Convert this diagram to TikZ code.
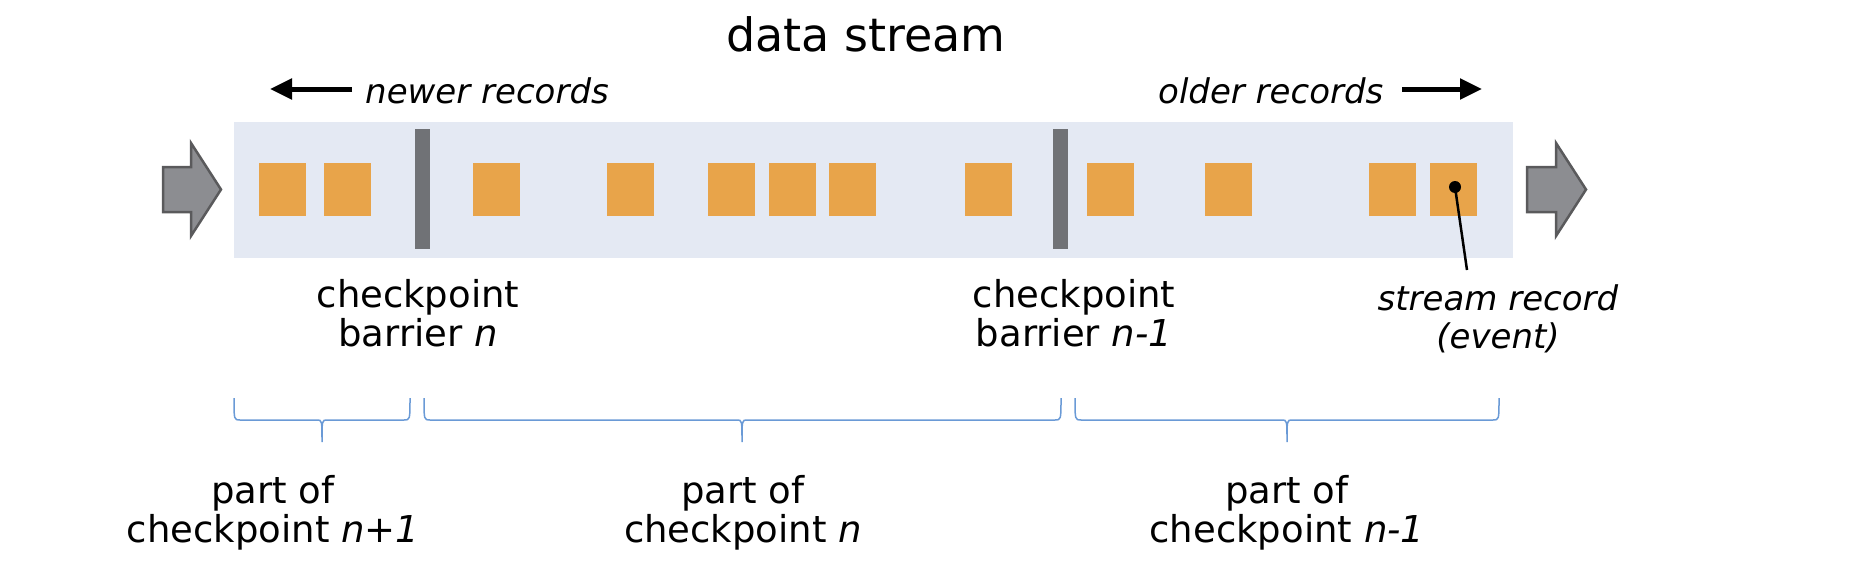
\documentclass[tikz,border=0pt]{standalone}
\usepackage{fontspec}
\setmainfont{DejaVu Sans}
\usetikzlibrary{arrows.meta}
\definecolor{bandcol}{HTML}{E4E9F3}
\definecolor{reccol}{HTML}{E8A44A}
\definecolor{barcol}{HTML}{707276}
\definecolor{arrfill}{HTML}{8C8D91}
\definecolor{arrdraw}{HTML}{5A5A5C}
\definecolor{bracecol}{HTML}{6A9AD6}
\tikzset{
  recbox/.style={fill=reccol, draw=none, minimum width=47pt, minimum height=53pt, inner sep=0pt, outer sep=0pt, anchor=north west},
  barbox/.style={fill=barcol, draw=none, minimum width=15pt, minimum height=120pt, inner sep=0pt, anchor=north west},
  blockarrow/.style={fill=arrfill, draw=arrdraw, line width=2.5pt, line join=miter},
  lbl/.style={font=\fontsize{37}{39}\selectfont, align=center, anchor=base, inner sep=0pt},
  ilbl/.style={font=\fontsize{34}{38}\selectfont\itshape, align=center, anchor=base, inner sep=0pt},
  ttl/.style={font=\fontsize{46}{50}\selectfont, anchor=base, inner sep=0pt},
  dirarrow/.style={line width=5pt, -{Triangle[length=22pt,width=20pt]}},
  bracepath/.style={draw=bracecol, line width=1.5pt},
}
\newcommand{\mybrace}[3]{% x1, xm, x2
  \draw[bracepath] (#1,398) .. controls (#1,420) .. (#1+6,420) -- (#2-5,420)
    .. controls (#2,420) .. (#2,442) .. controls (#2,420) .. (#2+5,420)
    -- (#3-6,420) .. controls (#3,420) .. (#3,398);}
\begin{document}
\begin{tikzpicture}[x=1pt,y=-1pt]
\useasboundingbox (0,0) rectangle (1864,562);
% band
\node[fill=bandcol, draw=none, inner sep=0pt, minimum width=1279pt, minimum height=136pt, anchor=north west] (band) at (234,122) {};
% block arrows
\draw[blockarrow] (163,167) -- (191,167) -- (191,143) -- (221,189.5) -- (191,236) -- (191,212) -- (163,212) -- cycle;
\draw[blockarrow] (1527,167) -- (1556,167) -- (1556,143) -- (1586,189.5) -- (1556,236) -- (1556,212) -- (1527,212) -- cycle;
% records
\foreach \x [count=\i] in {259,324,473,607,708,769,829,965,1087,1205,1369,1430}
  \node[recbox] (r\i) at (\x,163) {};
% barriers
\node[barbox] (b1) at (415,129) {};
\node[barbox] (b2) at (1053,129) {};
% title
\node[ttl] (title) at (866,51) {data stream};
% direction labels
\node[ilbl, anchor=base west] (newer) at (365,103) {newer records};
\node[ilbl, anchor=base west] (older) at (1158,103) {older records};
\coordinate (nl) at (270,89);
\coordinate (nr) at (352,89);
\coordinate (ol) at (1402,89);
\coordinate (or) at (1482,89);
\draw[dirarrow] (nr) -- (nl);
\draw[dirarrow] (ol) -- (or);
% barrier labels (base = last line)
\node[lbl] (lb1) at (418,346) {checkpoint\\barrier \textit{n}};
\node[lbl] (lb2) at (1074,346) {checkpoint\\barrier \textit{n-1}};
% stream record label
\node[ilbl] (lsr) at (1498,348) {stream record\\(event)};
\coordinate (dot) at (1455,187);
\coordinate (callend) at (1467,270);
\fill (dot) circle (6pt);
\draw[line width=2.5pt] (dot) -- (callend);
% braces
\mybrace{234}{322}{410}
\mybrace{424}{742}{1061}
\mybrace{1075}{1287}{1499}
% bottom labels
\node[lbl] (p1) at (273,542) {part of\\checkpoint \textit{n+1}};
\node[lbl] (p2) at (743,542) {part of\\checkpoint \textit{n}};
\node[lbl] (p3) at (1287,542) {part of\\checkpoint \textit{n-1}};
\end{tikzpicture}
\end{document}
